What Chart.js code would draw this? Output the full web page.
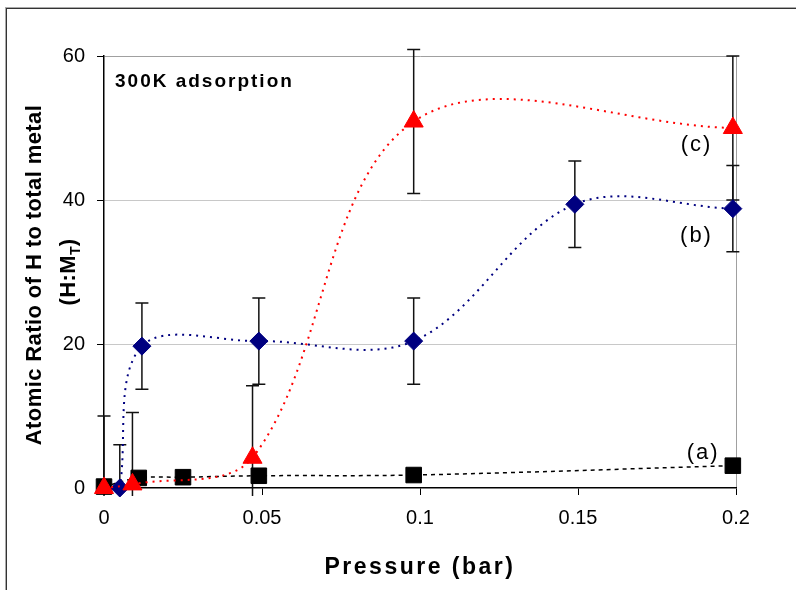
<!DOCTYPE html>
<html lang="en">
<head>
<meta charset="UTF-8">
<title>300K adsorption</title>
<script src="https://cdn.jsdelivr.net/npm/chart.js@4.4.1/dist/chart.umd.min.js"></script>
<style>
    body { margin: 0; background: #fff; }
    canvas { display: block; }
</style>
</head>
<body>
<canvas id="chart" width="796" height="590"></canvas>
<script>
// tick labels
var xTicks = [0, 0.05, 0.1, 0.15, 0.2];
var yTicks = [0, 20, 40, 60];

// (a) black squares
var pressureA = [0, 0.011, 0.025, 0.049, 0.098, 0.199];
var ratioA = [0.2, 1.4, 1.5, 1.7, 1.8, 3.1];

// (b) blue diamonds
var pressureB = [0.005, 0.012, 0.049, 0.098, 0.149, 0.199];
var ratioB = [0, 19.7, 20.4, 20.4, 39.4, 38.8];
var errorB = [6, 6, 6, 6, 6, 6];

// (c) red triangles
var pressureC = [0, 0.009, 0.047, 0.098, 0.199];
var ratioC = [0, 0.5, 4.2, 50.9, 50];
var errorC = [10, 10, 10, 10, 10];

// series labels next to the last points
var seriesNames = ['(a)', '(b)', '(c)'];
var nameX = [0.1896, 0.1875, 0.1875];
var nameY = [4.9, 35, 47.6];

function points(xs, ys) {
    return xs.map(function (x, i) { return {x: x, y: ys[i]}; });
}

var bars = [
    {xs: pressureB, ys: ratioB, err: errorB},
    {xs: pressureC, ys: ratioC, err: errorC}
];

var errorBarPlugin = {
    id: 'errorBars',
    beforeDatasetsDraw: function (chart) {
        var ctx = chart.ctx, xs = chart.scales.x, ys = chart.scales.y, a = chart.chartArea;
        ctx.save();
        ctx.beginPath();
        ctx.rect(a.left - 20, a.top - 20, a.right - a.left + 40, a.bottom - a.top + 28);
        ctx.clip();
        ctx.strokeStyle = '#111';
        ctx.lineWidth = 1.5;
        bars.forEach(function (b) {
            b.xs.forEach(function (x, i) {
                var px = xs.getPixelForValue(x);
                var top = ys.getPixelForValue(b.ys[i] + b.err[i]);
                var bot = ys.getPixelForValue(b.ys[i] - b.err[i]);
                ctx.beginPath();
                ctx.moveTo(px, top); ctx.lineTo(px, bot);
                ctx.moveTo(px - 6.5, top); ctx.lineTo(px + 6.5, top);
                ctx.moveTo(px - 6.5, bot); ctx.lineTo(px + 6.5, bot);
                ctx.stroke();
            });
        });
        ctx.restore();
    }
};

var textPlugin = {
    id: 'texts',
    beforeDraw: function (chart) {
        var ctx = chart.ctx;
        ctx.save();
        ctx.fillStyle = '#fff';
        ctx.fillRect(0, 0, chart.width, chart.height);
        ctx.lineWidth = 1;
        ctx.strokeStyle = '#aaa';
        ctx.strokeRect(5.5, 7.5, chart.width + 20, chart.height + 20);
        ctx.strokeStyle = '#333';
        ctx.strokeRect(6.5, 8.5, chart.width + 20, chart.height + 20);
        ctx.restore();
    },
    afterDraw: function (chart) {
        var ctx = chart.ctx, xs = chart.scales.x, ys = chart.scales.y;
        ctx.save();
        ctx.fillStyle = '#000';

        ctx.font = 'bold 19px "Liberation Sans", Arial, sans-serif';
        ctx.letterSpacing = '2px';
        ctx.textAlign = 'left';
        ctx.textBaseline = 'alphabetic';
        ctx.fillText('300K adsorption', 115, 87);

        ctx.font = 'bold 23px "Liberation Sans", Arial, sans-serif';
        ctx.letterSpacing = '2.5px';
        ctx.textAlign = 'center';
        ctx.fillText('Pressure (bar)', (chart.chartArea.left + chart.chartArea.right) / 2, 574);

        // y title, two rotated lines, second with subscript
        ctx.save();
        ctx.translate(41, 275);
        ctx.rotate(-Math.PI / 2);
        ctx.font = 'bold 22px "Liberation Sans", Arial, sans-serif';
        ctx.letterSpacing = '0.4px';
        ctx.fillText('Atomic Ratio of H to total metal', 0, 0);
        ctx.restore();

        ctx.save();
        ctx.translate(75, 272);
        ctx.rotate(-Math.PI / 2);
        ctx.textAlign = 'left';
        ctx.letterSpacing = '0.4px';
        var big = 'bold 22px "Liberation Sans", Arial, sans-serif';
        var small = 'bold 14px "Liberation Sans", Arial, sans-serif';
        ctx.font = big; var w1 = ctx.measureText('(H:M').width; var w3 = ctx.measureText(')').width;
        ctx.font = small; var w2 = ctx.measureText('T').width;
        var x0 = -(w1 + w2 + w3) / 2;
        ctx.font = big; ctx.fillText('(H:M', x0, 0);
        ctx.font = small; ctx.fillText('T', x0 + w1, 5);
        ctx.font = big; ctx.fillText(')', x0 + w1 + w2, 0);
        ctx.restore();

        ctx.font = '22px "Liberation Sans", Arial, sans-serif';
        ctx.letterSpacing = '2px';
        ctx.textAlign = 'center';
        ctx.textBaseline = 'middle';
        seriesNames.forEach(function (n, i) {
            ctx.fillText(n, xs.getPixelForValue(nameX[i]), ys.getPixelForValue(nameY[i]));
        });
        ctx.restore();
    }
};

var tickFont = {family: '"Liberation Sans", Arial, sans-serif', size: 20};

var chart = new Chart(document.getElementById('chart').getContext('2d'), {
    type: 'line',
    data: {
        datasets: [{
            label: '(a)',
            data: points(pressureA, ratioA),
            borderColor: '#000',
            borderWidth: 1.5,
            borderDash: [4, 4],
            pointStyle: 'rect',
            pointRadius: 11,
            pointBackgroundColor: '#000',
            pointBorderColor: '#000',
            pointBorderWidth: 1,
            clip: false,
            order: 3
        }, {
            label: '(b)',
            data: points(pressureB, ratioB),
            borderColor: '#000080',
            borderWidth: 2,
            borderDash: [2, 5],
            pointStyle: 'rectRot',
            pointRadius: 9,
            pointBackgroundColor: '#000080',
            pointBorderColor: '#000080',
            pointBorderWidth: 1,
            clip: false,
            order: 2
        }, {
            label: '(c)',
            data: points(pressureC, ratioC),
            borderColor: '#ff0000',
            borderWidth: 2,
            borderDash: [2, 5],
            pointStyle: 'triangle',
            pointRadius: 11,
            pointBackgroundColor: '#ff0000',
            pointBorderColor: '#ff0000',
            pointBorderWidth: 1,
            clip: false,
            order: 1
        }]
    },
    options: {
        responsive: false,
        animation: false,
        devicePixelRatio: 1,
        layout: {padding: {top: 56, right: 60, left: 0, bottom: 0}},
        elements: {line: {tension: 0.35, fill: false}},
        plugins: {legend: {display: false}, tooltip: {enabled: false}},
        scales: {
            x: {
                type: 'linear',
                min: 0,
                max: 0.2,
                afterBuildTicks: function (s) { s.ticks = xTicks.map(function (v) { return {value: v}; }); },
                afterFit: function (s) { s.height = 102; },
                ticks: {font: tickFont, color: '#000', padding: 11, maxRotation: 0, autoSkip: false,
                    callback: function (v) { return String(v); }},
                grid: {
                    color: function (c) { return c.tick && c.tick.value === 0.2 ? '#a0a0a0' : 'rgba(0,0,0,0)'; },
                    tickColor: '#000',
                    tickLength: 7
                },
                border: {color: '#000', width: 1.5}
            },
            y: {
                min: 0,
                max: 60,
                afterBuildTicks: function (s) { s.ticks = yTicks.map(function (v) { return {value: v}; }); },
                afterFit: function (s) { s.width = 104; },
                ticks: {font: tickFont, color: '#000', padding: 12},
                grid: {
                    color: function (c) { return c.tick && c.tick.value === 0 ? 'rgba(0,0,0,0)' : (c.tick && c.tick.value === 60 ? '#a0a0a0' : '#c8c8c8'); },
                    tickColor: '#000',
                    tickLength: 7
                },
                border: {color: '#000', width: 1.5}
            }
        }
    },
    plugins: [errorBarPlugin, textPlugin]
});
</script>
</body>
</html>
